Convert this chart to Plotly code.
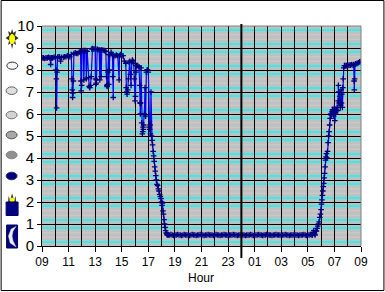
import plotly.graph_objects as go

# hours since 09:00 and readings (0-10 scale)
hours_morning = [
 0.0,0.1,0.2,0.3,0.4,0.5,0.6,0.65,0.7,0.8,
 0.9,1.0,1.05,1.08,1.1,1.13,1.16,1.2,1.3,1.4,
 1.45,1.6,1.7,1.8,1.9,2.0,2.1,2.2,2.25,2.28,
 2.3,2.33,2.36,2.4,2.5,2.6,2.7,2.8,2.9,2.93,
 2.95,2.98,3.0,3.1,3.15,3.2,3.3,3.33,3.4,3.5,
 3.55,3.6,3.65,3.7,3.75,3.8,3.9,4.0,4.02,4.05,
 4.08,4.1,4.15,4.2,4.3,4.35,4.4,4.45,4.5,4.6,
 4.7,4.8,4.85,4.88,4.9,4.93,4.96,5.0,5.03,5.06,
 5.1,5.2,5.3,5.33,5.36,5.4,5.5,5.6,5.7,5.8,
 5.83,5.9,6.0,6.1,6.2,6.3,6.33,6.36,6.4,6.45,
 6.5,6.55,6.6,6.65,6.7,6.75,6.8,6.85,6.9,6.95,
 7.0,7.03,7.06,7.1,7.2,7.3,7.35,7.38,7.4,7.42,
 7.45,7.5,7.55,7.58,7.6,7.62,7.65,7.7,7.75,7.8,
 7.85,7.9,7.95,8.0,8.05,8.1,8.13,8.16,8.2,8.24,
 8.28,8.32,8.36,8.4,8.44,8.48,8.52,8.56,8.6,8.65,
 8.7,8.75,8.8,8.85,8.9,8.95,9.0,9.03,9.06,9.1,
 9.14,9.18,9.22,9.26,9.3,9.34,9.38,9.42,9.46,9.5,
]
values_morning = [
 8.55,8.55,8.52,8.55,8.55,8.58,8.55,8.25,8.55,8.55,
 8.58,8.6,8.0,7.6,6.28,7.9,8.55,8.6,8.6,8.4,
 8.58,8.58,8.6,8.6,8.65,8.62,8.6,8.7,7.6,7.1,
 6.75,6.95,7.5,8.75,8.78,8.75,8.75,8.82,8.85,7.5,
 7.05,7.3,8.85,8.88,7.55,8.88,8.88,7.6,8.85,7.65,
 7.25,7.2,7.3,7.7,8.95,8.98,8.95,8.98,7.6,7.35,
 7.4,7.55,8.95,8.92,8.92,7.55,8.9,7.7,8.92,8.9,
 8.88,8.85,7.7,7.3,7.25,7.35,7.9,8.7,7.35,8.0,
 8.7,8.8,8.7,7.7,6.75,8.65,8.65,8.68,8.65,7.55,
 8.65,8.7,8.65,8.65,8.4,8.3,7.2,7.0,6.9,7.1,
 7.6,8.35,8.4,7.8,7.3,8.35,8.45,8.4,8.3,7.6,
 6.6,6.8,7.9,8.2,8.2,8.15,7.3,6.5,6.0,6.5,
 8.1,5.6,5.1,5.2,5.4,5.3,5.5,6.0,7.2,5.9,
 7.9,8.0,8.0,7.9,5.4,5.3,5.5,5.1,7.0,5.0,
 4.8,4.6,4.3,4.1,3.85,3.6,3.4,3.2,3.0,2.8,
 2.75,2.6,2.5,2.35,2.25,2.15,2.0,1.85,1.95,1.6,
 1.45,1.2,1.0,0.85,0.7,0.6,0.55,0.5,0.52,0.5,
]
hours_night = [
 9.6,9.7,9.8,9.9,10.0,10.1,10.2,10.3,10.4,10.5,
 10.6,10.7,10.8,10.9,11.0,11.1,11.2,11.3,11.4,11.5,
 11.6,11.7,11.8,11.9,12.0,12.1,12.2,12.3,12.4,12.5,
 12.6,12.7,12.8,12.9,13.0,13.1,13.2,13.3,13.4,13.5,
 13.6,13.7,13.8,13.9,14.0,14.1,14.2,14.3,14.4,14.5,
 14.6,14.7,14.8,14.9,15.0,15.1,15.2,15.3,15.4,15.5,
 15.6,15.7,15.8,15.9,16.0,16.1,16.2,16.3,16.4,16.5,
 16.6,16.7,16.8,16.9,17.0,17.1,17.2,17.3,17.4,17.5,
 17.6,17.7,17.8,17.9,18.0,18.1,18.2,18.3,18.4,18.5,
 18.6,18.7,18.8,18.9,19.0,19.1,19.2,19.3,19.4,19.5,
 19.6,19.7,19.8,19.9,20.0,20.1,20.2,20.3,
]
values_night = [
 0.5,0.52,0.5,0.48,0.5,0.5,0.52,0.5,0.5,0.48,
 0.5,0.52,0.5,0.5,0.5,0.48,0.5,0.52,0.5,0.5,
 0.48,0.5,0.5,0.52,0.5,0.5,0.48,0.5,0.5,0.52,
 0.5,0.5,0.5,0.48,0.5,0.52,0.5,0.5,0.48,0.5,
 0.5,0.52,0.5,0.5,0.48,0.5,0.5,0.5,0.52,0.5,
 0.5,0.48,0.5,0.5,0.52,0.5,0.5,0.48,0.5,0.5,
 0.5,0.52,0.5,0.48,0.5,0.5,0.5,0.52,0.5,0.5,
 0.48,0.5,0.5,0.52,0.5,0.5,0.5,0.48,0.5,0.5,
 0.52,0.5,0.5,0.5,0.48,0.5,0.5,0.52,0.5,0.5,
 0.48,0.5,0.5,0.5,0.52,0.5,0.5,0.48,0.5,0.5,
 0.5,0.52,0.5,0.48,0.5,0.5,0.52,0.5,
]
hours_dawn = [
 20.35,20.4,20.45,20.5,20.55,20.6,20.65,20.7,20.75,20.8,
 20.85,20.9,20.95,21.0,21.03,21.06,21.1,21.13,21.16,21.2,
 21.23,21.26,21.3,21.33,21.36,21.4,21.44,21.48,21.52,21.56,
 21.6,21.64,21.68,21.72,21.76,21.8,21.85,21.9,21.95,22.0,
 22.03,22.06,22.1,22.15,22.2,22.25,22.28,22.3,22.33,22.36,
 22.4,22.44,22.48,22.5,22.53,22.56,22.6,22.63,22.66,22.7,
 22.75,22.8,22.9,23.0,23.1,23.2,23.3,23.4,23.45,23.48,
 23.5,23.52,23.55,23.6,23.7,23.8,23.9,24.0,
]
values_dawn = [
 0.5,0.62,0.7,0.55,0.5,0.7,0.68,0.8,0.9,1.0,
 1.1,1.3,1.45,1.65,1.9,2.1,2.3,2.5,2.7,2.85,
 3.1,3.3,3.6,3.9,4.05,4.2,4.0,4.3,4.7,5.0,
 5.2,5.5,5.8,6.0,5.95,6.1,6.2,6.15,5.9,6.3,
 5.7,6.0,6.2,6.15,6.3,6.15,6.6,7.3,7.0,6.5,
 6.8,6.3,6.4,7.1,6.5,6.9,6.3,7.2,7.6,8.1,
 8.2,8.2,8.2,8.2,8.22,8.22,8.25,8.22,8.25,7.5,
 7.1,7.6,8.25,8.28,8.3,8.33,8.37,8.38,
]
hours = hours_morning + hours_night + hours_dawn
values = values_morning + values_night + values_dawn

hour_ticks = list(range(0, 25, 2))
hour_labels = ["09","11","13","15","17","19","21","23","01","03","05","07","09"]
value_ticks = list(range(0, 11))
cyan_levels = [i + f for i in range(10) for f in (0.18, 0.82)]
faint_levels = [i + f for i in range(10) for f in (0.4, 0.6)]

W, H = 385, 292
L, R, T, B = 41.5, 361.5, 26.0, 246.0
def fx(p): return (p - L) / (R - L)
def fy(p): return (B - p) / (B - T)

def oval(cx, cy, rx, ry, fill, edge, rot=False):
    return dict(type="circle", xref="paper", yref="paper",
                x0=fx(cx - rx), x1=fx(cx + rx), y0=fy(cy + ry), y1=fy(cy - ry),
                fillcolor=fill, line=dict(color=edge, width=1), layer="above")

def poly(points, fill, edge=None, width=0):
    d = "M " + " L ".join(f"{fx(a):.5f},{fy(b):.5f}" for a, b in points) + " Z"
    return dict(type="path", xref="paper", yref="paper", path=d, fillcolor=fill,
                line=dict(color=edge or fill, width=width), layer="above")

shapes = []
for v in faint_levels:
    shapes.append(dict(type="line", xref="paper", x0=0, x1=1, yref="y", y0=v, y1=v,
                       line=dict(color="#cccccc", width=1), layer="below"))
for v in cyan_levels:
    shapes.append(dict(type="line", xref="paper", x0=0, x1=1, yref="y", y0=v, y1=v,
                       line=dict(color="#00ffff", width=1.6), layer="below"))

# window frame
shapes.append(dict(type="rect", xref="paper", yref="paper", x0=fx(0.5), x1=fx(384.5),
                   y0=fy(290.5), y1=fy(0.5), line=dict(color="black", width=1), layer="above"))
# grey plot edge on top and right
shapes.append(dict(type="line", xref="paper", yref="paper", x0=0, x1=1, y0=1, y1=1,
                   line=dict(color="#808080", width=1), layer="above"))
shapes.append(dict(type="line", xref="paper", yref="paper", x0=1, x1=1, y0=0, y1=1,
                   line=dict(color="#808080", width=1), layer="above"))
# midnight marker
shapes.append(dict(type="line", xref="x", x0=15, x1=15, yref="paper", y0=fy(258), y1=fy(24),
                   line=dict(color="black", width=2), layer="above"))

# sun icon
shapes.append(poly([(11.5,29),(12.8,33),(15.5,31),(14.5,35.5),(18,38),(14.5,40.5),(15.5,45),(12.8,43),
                    (11.5,49),(10.2,43),(7.5,45),(8.5,40.5),(5,38),(8.5,35.5),(7.5,31),(10.2,33)],
                   "#303020"))
shapes.append(oval(11.5, 39, 2.4, 4.6, "#ffff00", "#ffff00"))
# cloud-cover ovals
shapes.append(oval(11.7, 65.7, 5.5, 3.6, "#f4f4f4", "#303030"))
shapes.append(oval(11, 90.7, 5.5, 3.8, "#dedede", "#606060"))
shapes.append(oval(11, 115, 5.5, 3.8, "#d2d2d2", "#707070"))
shapes.append(oval(11, 135, 5.5, 3.8, "#a8a8a8", "#505050"))
shapes.append(oval(11, 155, 5.5, 3.8, "#909090", "#808080"))
shapes.append(oval(11, 176, 5.5, 3.8, "#000080", "#303060"))
# dusk icon
shapes.append(poly([(7.5,202),(8,196),(9.5,200),(11.5,193.5),(13.5,200),(15,196),(15.5,202)], "#303020"))
shapes.append(oval(11.5, 200, 2.2, 2, "#ffff00", "#ffff00"))
shapes.append(dict(type="rect", xref="paper", yref="paper", x0=fx(5.5), x1=fx(17.5), y0=fy(215.5), y1=fy(202),
                   fillcolor="#000080", line=dict(color="#000060", width=1), layer="above"))
# moon icon
shapes.append(dict(type="rect", xref="paper", yref="paper", x0=fx(6), x1=fx(17), y0=fy(248), y1=fy(225),
                   fillcolor="#000080", line=dict(color="#000060", width=1), layer="above"))
shapes.append(poly([(15.5,226.5),(10.5,229),(7.8,236),(9.5,243),(15.5,247),(12.5,241),(11.5,236),(12.5,231)],
                   "#f0f0f0", "#c0c0c0", 0.5))

fig = go.Figure(go.Scatter(
    x=hours, y=values, mode="lines+markers",
    line=dict(color="#0000ff", width=1.2),
    marker=dict(symbol="cross-thin-open", size=4, color="#000080", line=dict(color="#000080", width=1.3)),
    hoverinfo="skip", showlegend=False))

fig.update_layout(
    width=W, height=H, autosize=False,
    margin=dict(l=L, r=W - R, t=T, b=H - B, pad=0),
    paper_bgcolor="white", plot_bgcolor="#c0c0c0",
    font=dict(family="Liberation Sans, Arial, sans-serif", color="black"),
    shapes=shapes,
    annotations=[dict(text="Hour", xref="paper", yref="paper", x=fx(201), y=fy(278),
                      xanchor="center", yanchor="middle", showarrow=False, font=dict(size=12))],
)
fig.update_xaxes(range=[0, 24], tickmode="array", tickvals=hour_ticks, ticktext=hour_labels,
                 ticks="outside", ticklen=5, tickwidth=1, tickcolor="black", tickangle=0,
                 tickfont=dict(size=12), showline=True, linecolor="black", linewidth=1,
                 showgrid=True, gridcolor="black", gridwidth=1.2, zeroline=False, automargin=False,
                 minor=dict(tickmode="linear", tick0=0, dtick=1, showgrid=True, gridcolor="black", gridwidth=1.2))
fig.update_yaxes(range=[0, 10], tickmode="array", tickvals=value_ticks,
                 ticks="outside", ticklen=4, tickwidth=1, tickcolor="black", automargin=False,
                 tickfont=dict(size=15), showline=True, linecolor="black", linewidth=1,
                 showgrid=True, gridcolor="black", gridwidth=1.2, zeroline=False)

fig.write_html("out.html", config=dict(displayModeBar=False),
               post_script="document.body.style.margin='0';document.body.style.overflow='hidden';")
